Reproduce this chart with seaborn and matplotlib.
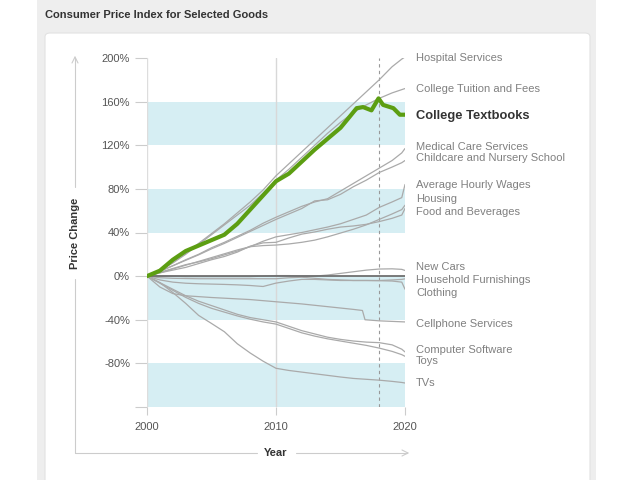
import matplotlib
matplotlib.use("Agg")
import matplotlib.pyplot as plt
import seaborn as sns
import pandas as pd
from matplotlib.lines import Line2D
from matplotlib.patches import Rectangle, FancyBboxPatch

# ---------------- data (percent change since 2000) ----------------
years = [2000, 2001, 2002, 2003, 2004, 2005, 2006, 2007, 2008, 2009, 2010,
         2011, 2012, 2013, 2014, 2015, 2016, 2017, 2018, 2019, 2019.75, 2020]

hospital = [0, 6, 13, 21, 30, 39, 48, 58, 68, 79, 92, 103, 114, 125, 136, 147, 158, 169, 180, 192, 199, 201]
tuition = [0, 5, 12, 20, 29, 38, 47, 56, 65, 76, 88, 98, 109, 120, 131, 141, 150, 157, 163, 168, 171, 172]
medical = [0, 4.5, 9.5, 15, 20, 26, 31, 36.5, 42, 48.5, 54, 59, 64, 68, 71, 78, 85, 92, 99, 106, 113, 117]
childcare = [0, 4.5, 9.5, 14.5, 19.5, 25, 30, 35.5, 41, 46.5, 52, 57, 62, 69, 70, 75, 82, 88, 95, 100, 104, 106]
wages = [0, 3.5, 7, 10.5, 13, 16, 19.5, 23, 27, 32, 36, 38, 40, 42.5, 45, 48, 52, 56, 63, 68, 72, 84]
housing = [0, 3, 6.5, 10, 13.5, 17, 20.5, 24, 27, 28, 28.5, 29.5, 31, 33, 36, 39.5, 43, 47, 52, 57, 61, 65]
food = [0, 3, 5.5, 8, 11.5, 15, 18, 22, 27.5, 30.5, 31, 35, 38.5, 40.5, 43, 45, 46, 47.5, 50, 53, 56, 62]
new_cars = [0, 0, 0, -0.5, -0.5, -0.5, -0.5, -0.5, -0.5, 0, 0.5, 0.5, 0, 0, 1, 2.5, 4, 5.5, 6.5, 6.7, 6.2, 5.2]
furnishings = [0, -1.5, -2, -2.2, -2.4, -2.4, -2.4, -2.4, -2.4, -2.4, -2.4, -1.5, -1, -2, -3, -3.5, -4, -4, -4, -3.5, -3, -2.5]
clothing = [0, -3.5, -5.5, -6.5, -7, -7.3, -7.6, -8, -8.6, -9.5, -6.4, -4.5, -3, -3, -3.5, -4, -4, -4, -4.2, -4.5, -5.5, -12]
software = [0, -6, -12, -18, -23, -27, -31, -35, -38, -40, -42, -46, -50, -53, -56, -58, -59.5, -60.5, -61, -63, -67, -69.5]
toys = [0, -6.5, -13, -19.5, -25, -29.5, -33, -36.5, -39.5, -42, -44, -48, -52, -55, -57.5, -59.5, -61.5, -63.5, -66, -69, -72, -73.5]
tvs = [0, -6, -15, -25, -36, -43.4, -51, -62, -70.5, -78, -84.5, -86.5, -88, -89.5, -91, -92.5, -93.8, -94.6, -95.4, -96.5, -97.5, -98]

cell_years = [2000, 2001, 2002, 2003, 2005, 2008, 2010, 2012, 2014, 2016, 2016.7, 2016.9, 2018, 2020]
cellphone = [0, -10, -16, -18, -19.6, -21.5, -23.5, -25.5, -28, -30.5, -31.5, -40, -41, -42]

textbook_years = [2000, 2001, 2002, 2003, 2004, 2005, 2006, 2007, 2008, 2009, 2010, 2011, 2012,
                  2013, 2014, 2015, 2015.7, 2016.25, 2016.75, 2017.4, 2017.95, 2018.3, 2019.1, 2019.6, 2020]
textbooks = [0, 5, 15, 23, 28, 33, 38, 48, 61, 74, 87, 94, 105, 116, 126, 136,
             146, 154, 155, 152, 163, 157, 154, 148, 148]

grey_names = ["Hospital Services", "College Tuition and Fees", "Medical Care Services",
              "Childcare and Nursery School", "Average Hourly Wages", "Housing",
              "Food and Beverages", "New Cars", "Household Furnishings", "Clothing",
              "Computer Software", "Toys", "TVs"]
grey_values = [hospital, tuition, medical, childcare, wages, housing, food,
               new_cars, furnishings, clothing, software, toys, tvs]

ytick_values = [-120, -80, -40, 0, 40, 80, 120, 160, 200]
ytick_labels = ["", "-80%", "-40%", "0%", "40%", "80%", "120%", "160%", "200%"]
xtick_values = [2000, 2010, 2020]
xtick_labels = ["2000", "2010", "2020"]

# label layout (y positions in axis units)
label_names = ["Hospital Services", "College Tuition and Fees", "College Textbooks",
               "Medical Care Services", "Childcare and Nursery School", "Average Hourly Wages",
               "Housing", "Food and Beverages", "New Cars", "Household Furnishings",
               "Clothing", "Cellphone Services", "Computer Software", "Toys", "TVs"]
label_y = [200, 171.6, 147.2, 118.8, 108.3, 83.9, 70.6, 59.2, 8.3, -3.7, -15.6, -44, -67.9, -77.5, -97.7]

# ---------------- style ----------------
sns.set_style("white")
plt.rcParams["font.family"] = ["Liberation Sans", "DejaVu Sans"]

W, H = 640, 480
fig = plt.figure(figsize=(6.4, 4.8), dpi=100)
fig.patch.set_facecolor("white")

def fx(px):
    return px / W

def fy(py):
    return 1 - py / H

# grey panel and white card
fig.add_artist(Rectangle((fx(37), 0), fx(596) - fx(37), 1, transform=fig.transFigure,
                         facecolor="#eeeeee", edgecolor="none", zorder=-10))
fig.add_artist(FancyBboxPatch((fx(45), fy(490)), fx(590) - fx(45), fy(33) - fy(490),
                              boxstyle="round,pad=0,rounding_size=0.008",
                              transform=fig.transFigure, facecolor="white",
                              edgecolor="#e2e2e2", lw=0.8, zorder=-9))
fig.text(fx(45), fy(15), "Consumer Price Index for Selected Goods", fontsize=8,
         fontweight="bold", color="#333333", ha="left", va="center")

ax = fig.add_axes([fx(147), fy(407), fx(405) - fx(147), fy(58) - fy(407)])
ax.set_facecolor("none")
ax.set_xlim(2000, 2020)
ax.set_ylim(-120, 200)

band_color = "#d6eef3"
for lo, hi in [(120, 160), (40, 80), (-40, 0), (-120, -80)]:
    ax.axhspan(lo, hi, color=band_color, lw=0, zorder=0)

ax.axvline(2000, color="#dddddd", lw=1, zorder=1)
ax.axvline(2010, color="#d8d8d8", lw=1, zorder=1)
ax.axvline(2018, color="#999999", lw=0.8, ls=(0, (3, 3)), zorder=1)

for name, vals in zip(grey_names, grey_values):
    sns.lineplot(x=years, y=vals, ax=ax, color="#aaaaaa", lw=0.9, zorder=2)
sns.lineplot(x=cell_years, y=cellphone, ax=ax, color="#aaaaaa", lw=0.9, zorder=2)

ax.axhline(0, color="#6f6f6f", lw=1.3, zorder=3)

sns.lineplot(x=textbook_years, y=textbooks, ax=ax, color="#5c9e12", lw=3.0, zorder=4,
             solid_capstyle="round", solid_joinstyle="round")

for sp in ax.spines.values():
    sp.set_visible(False)

ax.set_yticks(ytick_values)
ax.set_yticklabels(ytick_labels)
ax.set_xticks(xtick_values)
ax.set_xticklabels(xtick_labels)
ax.tick_params(axis="y", left=True, length=8.6, width=0.8, color="#cccccc", pad=3.6,
               labelsize=8, labelcolor="#555555")
ax.tick_params(axis="x", bottom=True, length=5.5, width=0.8, color="#cccccc", pad=5,
               labelsize=8, labelcolor="#555555")
ax.yaxis.get_major_ticks()[3].tick1line.set_color("#6f6f6f")
ax.set_xlabel("")
ax.set_ylabel("")
ax.grid(False)

for name, yv in zip(label_names, label_y):
    if name == "College Textbooks":
        ax.text(2020.85, yv, name, fontsize=9.3, fontweight="bold", color="#333333",
                ha="left", va="center", clip_on=False)
    else:
        ax.text(2020.85, yv, name, fontsize=8, color="#808080",
                ha="left", va="center", clip_on=False)

# axis arrows
acol = "#cccccc"
segs = [((75, 58), (75, 187)), ((75, 279), (75, 453)),
        ((75, 453), (257, 453)), ((296, 453), (407, 453)),
        ((72, 63), (75, 57)), ((75, 57), (78, 63)),
        ((402, 450), (408, 453)), ((408, 453), (402, 456))]
for (x0, y0), (x1, y1) in segs:
    fig.add_artist(Line2D([fx(x0), fx(x1)], [fy(y0), fy(y1)], transform=fig.transFigure,
                          color=acol, lw=0.8))
fig.text(fx(75), fy(233), "Price Change", rotation=90, fontsize=8, fontweight="bold",
         color="#333333", ha="center", va="center")
fig.text(fx(276), fy(453), "Year", fontsize=8, fontweight="bold",
         color="#333333", ha="center", va="center")

fig.savefig("out.png", dpi=100)
